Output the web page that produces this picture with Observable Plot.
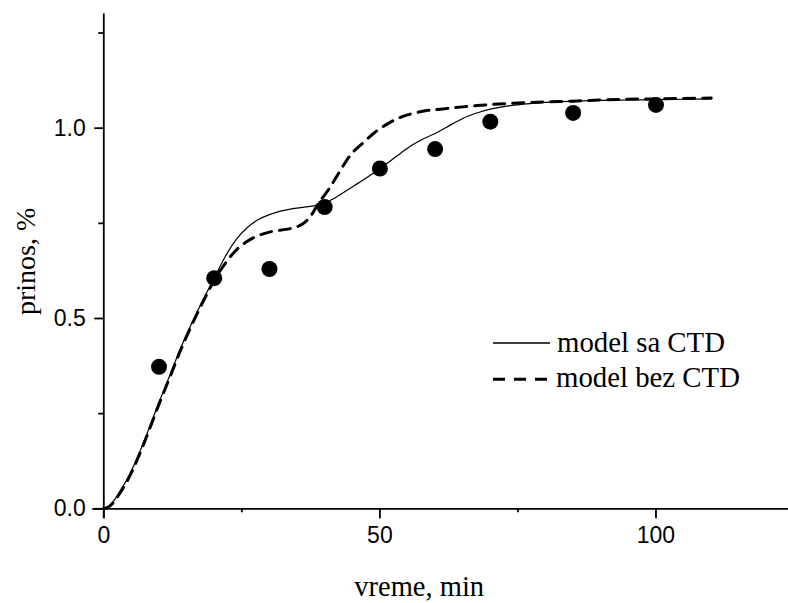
<!DOCTYPE html>
<html>
<head>
<meta charset="utf-8">
<script src="https://cdn.jsdelivr.net/npm/d3@7"></script>
<script src="https://cdn.jsdelivr.net/npm/@observablehq/plot@0.6"></script>
<style>
  html, body { margin: 0; padding: 0; background: #fff; }
  #wrap { position: relative; width: 788px; height: 603px; }
  #legend { position: absolute; left: 0; top: 0; pointer-events: none; }
</style>
</head>
<body>
<div id="wrap"></div>
<script>
// Measured points (vreme, min -> prinos, %)
const measuredX = [10, 20, 30, 40, 50, 60, 70, 85, 100];
const measuredY = [0.373, 0.606, 0.630, 0.793, 0.894, 0.945, 1.017, 1.040, 1.061];

// model sa CTD (solid)
const saX = [0, 1, 2, 3, 4, 5, 6, 7, 8, 9, 10, 12, 14, 16, 18, 20, 22, 24, 26, 28, 30, 32, 34, 36, 38, 40, 42, 44, 46, 48, 50, 52, 54, 56, 58, 60, 62, 64, 66, 68, 70, 73, 76, 80, 85, 90, 95, 100, 105, 110];
const saY = [0, 0.008, 0.025, 0.048, 0.072, 0.1, 0.132, 0.167, 0.204, 0.242, 0.28, 0.352, 0.425, 0.49, 0.55, 0.606, 0.663, 0.708, 0.739, 0.76, 0.773, 0.782, 0.788, 0.792, 0.796, 0.803, 0.818, 0.836, 0.855, 0.874, 0.894, 0.915, 0.937, 0.957, 0.973, 0.986, 1.002, 1.018, 1.032, 1.042, 1.050, 1.058, 1.063, 1.068, 1.071, 1.073, 1.074, 1.075, 1.076, 1.077];

// model bez CTD (dashed)
const bezX = [0, 1, 2, 3, 4, 5, 6, 7, 8, 9, 10, 12, 14, 16, 18, 20, 22, 24, 26, 28, 30, 32, 34, 36, 37.5, 39, 41, 43, 45, 47, 49, 51, 53, 55, 58, 61, 65, 70, 75, 80, 85, 90, 95, 100, 105, 110];
const bezY = [0, 0.006, 0.021, 0.043, 0.067, 0.095, 0.127, 0.162, 0.199, 0.237, 0.275, 0.347, 0.42, 0.485, 0.545, 0.6, 0.645, 0.68, 0.703, 0.718, 0.727, 0.732, 0.737, 0.748, 0.77, 0.805, 0.845, 0.893, 0.935, 0.962, 0.988, 1.008, 1.024, 1.035, 1.045, 1.050, 1.056, 1.062, 1.066, 1.069, 1.071, 1.074, 1.076, 1.077, 1.078, 1.079];

const xMajorTicks = [0, 50, 100];
const xMinorTicks = [25, 75];
const yMajorTicks = [0, 0.5, 1.0];
const yMinorTicks = [0.25, 0.75, 1.25];

const xLabel = "vreme, min";
const yLabel = "prinos, %";
const legendLabels = ["model sa CTD", "model bez CTD"];

const measured = measuredX.map((x, i) => ({x, y: measuredY[i]}));
const sa = saX.map((x, i) => ({x, y: saY[i]}));
const bez = bezX.map((x, i) => ({x, y: bezY[i]}));

const serif = "'Liberation Serif', 'Times New Roman', serif";
const sans = "'Liberation Sans', Arial, sans-serif";

const chart = Plot.plot({
  width: 788,
  height: 603,
  marginLeft: 103.3,
  marginRight: 0,
  marginTop: 13.5,
  marginBottom: 94.7,
  x: {domain: [0, 124]},
  y: {domain: [0, 1.3]},
  style: {background: "white", color: "black", fontFamily: sans},
  marks: [
    Plot.axisX({ticks: xMajorTicks, tickSize: 10, tickPadding: 8, fontSize: 23, strokeWidth: 1.8, tickFormat: d => String(d), label: null}),
    Plot.axisX({ticks: xMinorTicks, tickSize: 4, strokeWidth: 1.8, tickFormat: () => "", label: null}),
    Plot.axisY({ticks: yMajorTicks, tickSize: 9, tickPadding: 9, fontSize: 23, strokeWidth: 1.8, tickFormat: d3.format(".1f"), label: null}),
    Plot.axisY({ticks: yMinorTicks, tickSize: 5, strokeWidth: 1.8, tickFormat: () => "", label: null}),
    Plot.ruleX([0], {stroke: "black", strokeWidth: 1.8, insetBottom: -10}),
    Plot.ruleY([0], {stroke: "black", strokeWidth: 1.8, insetLeft: -11}),
    Plot.line(sa, {x: "x", y: "y", curve: "catmull-rom", stroke: "black", strokeWidth: 1.2}),
    Plot.line(bez, {x: "x", y: "y", curve: "catmull-rom", stroke: "black", strokeWidth: 3, strokeDasharray: "11,8"}),
    Plot.dot(measured, {x: "x", y: "y", r: 8, fill: "black", stroke: null}),
    Plot.text([xLabel], {frameAnchor: "bottom", dx: -27, dy: 86.7, lineAnchor: "bottom", textAnchor: "middle", fontSize: 28.5, fontFamily: serif, fill: "black"}),
    Plot.text([yLabel], {frameAnchor: "left", dx: -78, rotate: -90, textAnchor: "middle", fontSize: 28, fontFamily: serif, fill: "black"})
  ]
});

const wrap = document.getElementById("wrap");
wrap.appendChild(chart);

// Legend overlay
const ns = "http://www.w3.org/2000/svg";
const leg = document.createElementNS(ns, "svg");
leg.setAttribute("id", "legend");
leg.setAttribute("width", 788);
leg.setAttribute("height", 603);
leg.innerHTML = `
  <line x1="493" x2="550" y1="343" y2="343" stroke="black" stroke-width="1.3"/>
  <text x="557" y="352" font-family="${serif}" font-size="28.8" fill="black">${legendLabels[0]}</text>
  <line x1="493" x2="550" y1="379.3" y2="379.3" stroke="black" stroke-width="3" stroke-dasharray="12,9"/>
  <text x="556" y="387" font-family="${serif}" font-size="28.8" fill="black">${legendLabels[1]}</text>
`;
wrap.appendChild(leg);
</script>
</body>
</html>
